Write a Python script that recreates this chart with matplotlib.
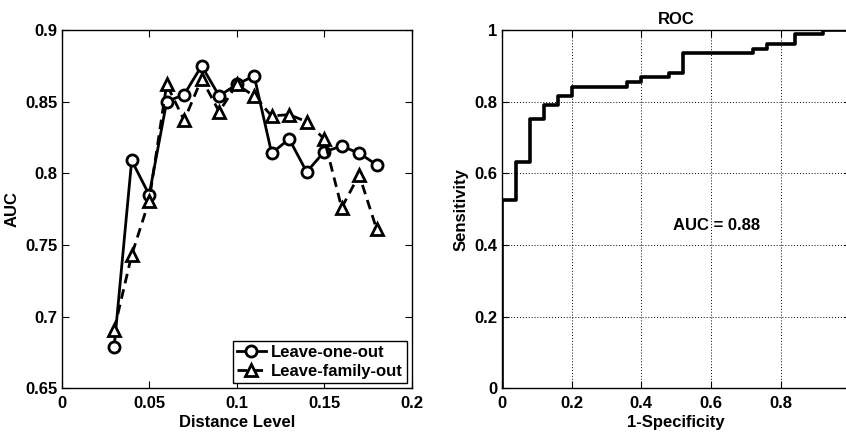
import matplotlib
matplotlib.use("Agg")
import matplotlib.pyplot as plt

# Left panel: AUC against distance level
distance = [0.03, 0.04, 0.05, 0.06, 0.07, 0.08, 0.09, 0.10, 0.11,
            0.12, 0.13, 0.14, 0.15, 0.16, 0.17, 0.18]
auc_one_out = [0.679, 0.809, 0.785, 0.850, 0.855, 0.875, 0.854, 0.862, 0.868,
               0.814, 0.824, 0.801, 0.815, 0.819, 0.814, 0.806]
auc_family_out = [0.691, 0.743, 0.781, 0.862, 0.837, 0.866, 0.843, 0.862, 0.854,
                  0.840, 0.841, 0.836, 0.824, 0.776, 0.799, 0.761]

# Right panel: ROC curve corner points
fpr = [0.0, 0.0, 0.04, 0.08, 0.12, 0.16, 0.20, 0.36, 0.40, 0.48, 0.52,
       0.72, 0.76, 0.84, 0.92, 1.0]
tpr = [0.0, 0.526, 0.631, 0.751, 0.790, 0.816, 0.842, 0.854, 0.868, 0.881,
       0.935, 0.947, 0.961, 0.988, 1.0, 1.0]
auc_value = 0.88

FS = 12
plt.rcParams["font.family"] = ["Liberation Sans", "DejaVu Sans"]
plt.rcParams["font.weight"] = "bold"
plt.rcParams["font.size"] = FS
plt.rcParams["axes.labelweight"] = "bold"
plt.rcParams["axes.titleweight"] = "bold"

fig = plt.figure(figsize=(8.46, 4.33), dpi=100)
ax1 = fig.add_axes([0.0729, 0.1032, 0.4137, 0.8275])
ax2 = fig.add_axes([0.593, 0.1032, 0.4127, 0.8275])

for ax in (ax1, ax2):
    ax.tick_params(direction="in", top=True, right=True, length=5,
                   width=0.8, labelsize=FS)
    ax.tick_params(axis="x", pad=5.5)
    ax.tick_params(axis="y", pad=3)
    for s in ax.spines.values():
        s.set_linewidth(1.0)

ax1.plot(distance, auc_one_out, "-o", color="black", lw=2.0, ms=8,
         mfc="white", mew=2.0, label="Leave-one-out")
ax1.plot(distance, auc_family_out, "--^", color="black", lw=2.0, ms=8.5,
         mfc="white", mew=2.0, label="Leave-family-out", dashes=(3.5, 2.2))
ax1.set_xlim(0, 0.2)
ax1.set_ylim(0.65, 0.9)
ax1.set_xticks([0, 0.05, 0.1, 0.15, 0.2])
ax1.set_xticklabels(["0", "0.05", "0.1", "0.15", "0.2"])
ax1.set_yticks([0.65, 0.7, 0.75, 0.8, 0.85, 0.9])
ax1.set_yticklabels(["0.65", "0.7", "0.75", "0.8", "0.85", "0.9"])
ax1.set_xlabel("Distance Level", labelpad=3)
ax1.set_ylabel("AUC", labelpad=4)
leg = ax1.legend(loc="lower right", fancybox=False, framealpha=1,
                 edgecolor="black", borderpad=0.25, handlelength=1.7,
                 handletextpad=0.3, labelspacing=0.25, borderaxespad=0.3,
                 prop={"size": FS, "weight": "bold"})
leg.get_frame().set_linewidth(1.0)

ax2.plot(fpr, tpr, color="black", lw=2.6, drawstyle="steps-post")
ax2.set_xlim(0, 1)
ax2.set_ylim(0, 1)
ax2.set_xticks([0, 0.2, 0.4, 0.6, 0.8, 1.0])
# the "1" at the far right falls outside the cropped picture
ax2.set_xticklabels(["0", "0.2", "0.4", "0.6", "0.8", ""])
ax2.set_yticks([0, 0.2, 0.4, 0.6, 0.8, 1.0])
ax2.set_yticklabels(["0", "0.2", "0.4", "0.6", "0.8", "1"])
ax2.grid(True, color="black", linestyle=(0, (1, 2)), linewidth=0.7)
ax2.set_axisbelow(True)
ax2.set_xlabel("1-Specificity", labelpad=3)
ax2.set_ylabel("Sensitivity", labelpad=4)
ax2.set_title("ROC", fontsize=FS, pad=4)
ax2.text(0.49, 0.455, "AUC = %.2f" % auc_value, ha="left", va="center",
         fontsize=FS, fontweight="bold")

fig.savefig("out.png", dpi=100)
